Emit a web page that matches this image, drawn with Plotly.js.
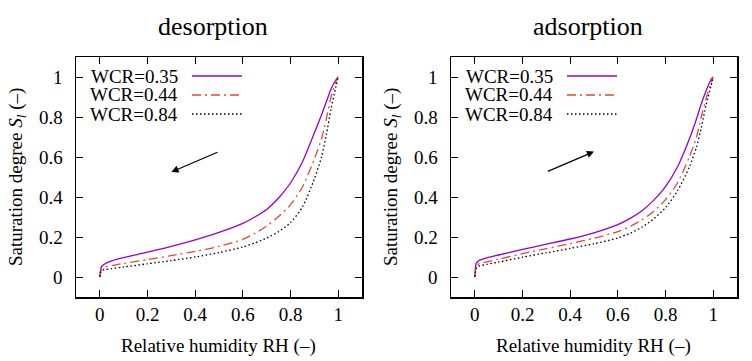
<!DOCTYPE html>
<html>
<head>
<meta charset="utf-8">
<script src="https://cdn.plot.ly/plotly-3.0.1.min.js"></script>
<style>
  body { margin: 0; background: #fff; }
  #plot { width: 752px; height: 361px; }
</style>
</head>
<body>
<div id="plot"></div>
<script>
// relative humidity samples (shared by all curves)
let rh = [0, 0.005, 0.01, 0.02, 0.05, 0.1, 0.2, 0.3, 0.4, 0.5, 0.6, 0.65, 0.7, 0.75, 0.8, 0.85, 0.9, 0.93, 0.95, 0.97, 0.99, 1];

// desorption saturation degree
let desWCR035 = [0, 0.045, 0.056, 0.065, 0.081, 0.097, 0.124, 0.153, 0.186, 0.223, 0.268, 0.3, 0.338, 0.395, 0.47, 0.575, 0.72, 0.81, 0.875, 0.94, 0.985, 1];
let desWCR044 = [0, 0.035, 0.044, 0.05, 0.057, 0.068, 0.087, 0.107, 0.128, 0.153, 0.188, 0.218, 0.255, 0.302, 0.362, 0.45, 0.59, 0.69, 0.79, 0.9, 0.975, 1];
let desWCR084 = [0, 0.028, 0.034, 0.037, 0.042, 0.05, 0.066, 0.082, 0.10, 0.122, 0.15, 0.17, 0.195, 0.227, 0.272, 0.35, 0.49, 0.60, 0.71, 0.84, 0.95, 1];

// adsorption saturation degree
let adsWCR035 = [0, 0.065, 0.075, 0.084, 0.096, 0.11, 0.138, 0.164, 0.19, 0.221, 0.262, 0.292, 0.33, 0.383, 0.452, 0.55, 0.69, 0.79, 0.865, 0.93, 0.985, 1];
let adsWCR044 = [0, 0.05, 0.06, 0.067, 0.076, 0.089, 0.117, 0.142, 0.167, 0.194, 0.227, 0.252, 0.285, 0.328, 0.387, 0.47, 0.60, 0.70, 0.80, 0.89, 0.97, 1];
let adsWCR084 = [0, 0.04, 0.05, 0.056, 0.063, 0.075, 0.099, 0.121, 0.143, 0.166, 0.195, 0.218, 0.248, 0.29, 0.347, 0.43, 0.55, 0.65, 0.745, 0.86, 0.95, 1];

let seriesNames = ['WCR=0.35', 'WCR=0.44', 'WCR=0.84'];
let panelTitles = ['desorption', 'adsorption'];
let tickVals = [0, 0.2, 0.4, 0.6, 0.8, 1];
let tickText = ['0', '0.2', '0.4', '0.6', '0.8', '1'];

let W = 752, H = 361;
let px = v => v / W;
let py = v => 1 - v / H;

let styles = [
  {color: '#9400d3', width: 1.3, dash: 'solid'},
  {color: '#e04a35', width: 1.3, dash: '9px,4px,2px,4px'},
  {color: '#000000', width: 1.3, dash: '1.5px,2.5px'}
];

let panels = [
  {xa: 'x', ya: 'y', ys: [desWCR035, desWCR044, desWCR084]},
  {xa: 'x2', ya: 'y2', ys: [adsWCR035, adsWCR044, adsWCR084]}
];

let data = [];
panels.forEach(p => {
  p.ys.forEach((ys, i) => {
    data.push({
      x: rh, y: ys, xaxis: p.xa, yaxis: p.ya,
      name: seriesNames[i], type: 'scatter', mode: 'lines',
      line: {color: styles[i].color, width: styles[i].width, dash: styles[i].dash, shape: 'spline', smoothing: 0.7},
      showlegend: false, hoverinfo: 'skip'
    });
  });
});

let font = {family: 'Liberation Serif, Times New Roman, serif', color: '#000'};

function axis(domain, anchor, showLabels) {
  return {
    domain: domain, anchor: anchor, range: [-0.1, 1.1],
    tickvals: tickVals, ticktext: tickText, showticklabels: showLabels,
    ticks: 'inside', ticklen: 7, tickwidth: 1, tickcolor: '#000',
    showline: true, mirror: 'allticks', linecolor: '#000', linewidth: 1.5,
    showgrid: false, zeroline: false, fixedrange: true, automargin: false,
    tickfont: Object.assign({size: 19}, font)
  };
}

let offsets = [0, 375];
let yRefs = ['y', 'y2'];

let annotations = [];
let shapes = [];

function label(x, y, text, size, extra) {
  return Object.assign({xref: 'paper', yref: 'paper', x: px(x), y: py(y), text: text,
    xanchor: 'center', yanchor: 'middle', showarrow: false,
    font: Object.assign({size: size}, font)}, extra || {});
}

offsets.forEach((off, k) => {
  annotations.push(label(213 + off, 27, panelTitles[k], 26));
  annotations.push(label(218 + off, 346, 'Relative humidity RH (\u2013)', 19));
  annotations.push(label(17 + off, 177, 'Saturation degree <i>S<sub>l</sub></i> (\u2013)', 19, {textangle: -90}));
  // y tick labels, set a little further from the axis than Plotly puts them
  tickVals.forEach((v, j) => {
    annotations.push({xref: 'paper', yref: yRefs[k], x: px(65 + off), y: v, text: tickText[j],
      xanchor: 'right', yanchor: 'middle', showarrow: false,
      font: Object.assign({size: 19}, font)});
  });
  let rows = [76, 95, 114];
  seriesNames.forEach((n, i) => {
    annotations.push(label(180 + off, rows[i], n, 19, {xanchor: 'right'}));
    shapes.push({type: 'line', xref: 'paper', yref: 'paper',
      x0: px(192 + off), x1: px(242 + off), y0: py(rows[i]), y1: py(rows[i]),
      line: {color: styles[i].color, width: styles[i].width, dash: styles[i].dash}});
  });
});

// direction arrows
annotations.push({xref: 'x', yref: 'y', axref: 'x', ayref: 'y', x: 0.3, y: 0.525, ax: 0.5, ay: 0.627,
  showarrow: true, arrowhead: 2, arrowsize: 1.2, arrowwidth: 1.2, arrowcolor: '#000', text: ''});
annotations.push({xref: 'x2', yref: 'y2', axref: 'x2', ayref: 'y2', x: 0.5, y: 0.627, ax: 0.3, ay: 0.525,
  showarrow: true, arrowhead: 2, arrowsize: 1.2, arrowwidth: 1.2, arrowcolor: '#000', text: ''});

let yDom = [1 - 297 / H, 1 - 57 / H];
let layout = {
  width: W, height: H,
  margin: {l: 0, r: 0, t: 0, b: 0},
  paper_bgcolor: '#fff', plot_bgcolor: '#fff',
  showlegend: false,
  xaxis: axis([px(76), px(362)], 'y', true),
  yaxis: axis(yDom, 'x', false),
  xaxis2: axis([px(451), px(737)], 'y2', true),
  yaxis2: axis(yDom, 'x2', false),
  annotations: annotations,
  shapes: shapes
};

Plotly.newPlot('plot', data, layout, {staticPlot: true});
</script>
</body>
</html>
